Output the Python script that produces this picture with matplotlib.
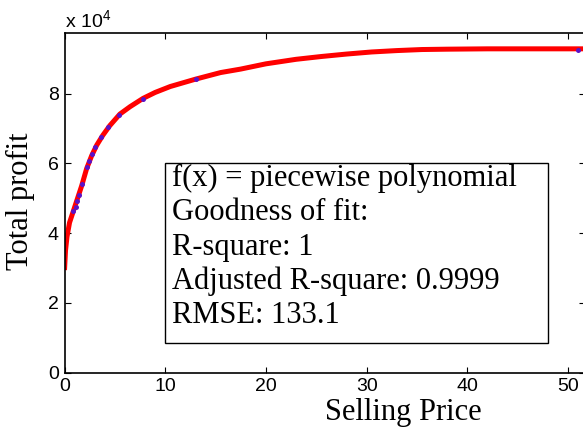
import matplotlib
matplotlib.use("Agg")
from matplotlib import pyplot as plt
from matplotlib.patches import Rectangle
import numpy as np

# fitted curve (piecewise polynomial)
fit_x = [0, 0.1, 0.25, 0.5, 0.9, 1.3, 1.7, 2.2, 2.7, 3.2, 3.8, 4.5, 5.5, 6.5,
         7.8, 9, 10.5, 13, 15.5, 17.5, 20, 23, 25.5, 28, 30.5, 33, 35.5, 38,
         42, 46, 51.7]
fit_y = [2.94, 3.5, 3.9, 4.3, 4.65, 5.0, 5.35, 5.85, 6.22, 6.52, 6.8, 7.08,
         7.41, 7.62, 7.86, 8.03, 8.2, 8.41, 8.60, 8.70, 8.85, 8.98, 9.06, 9.13,
         9.19, 9.23, 9.26, 9.27, 9.28, 9.28, 9.28]

# data points
pts_x = [0.88, 1.11, 1.27, 1.45, 1.71, 2.2, 2.47, 2.72, 3.06, 3.64, 4.32,
         5.44, 7.75, 13.08, 51.0]
pts_y = [4.63, 4.76, 4.92, 5.10, 5.40, 5.90, 6.07, 6.26, 6.47, 6.74, 7.04,
         7.39, 7.84, 8.41, 9.25]

xticks = [0, 10, 20, 30, 40, 50]
yticks = [0, 2, 4, 6, 8]

info = ["f(x) = piecewise polynomial",
        "Goodness of fit:",
        "R-square: 1",
        "Adjusted R-square: 0.9999",
        "RMSE: 133.1"]

plt.rcParams['font.family'] = 'Liberation Sans'
plt.rcParams['mathtext.default'] = 'regular'

W, H = 583, 429
L, R, T, B = 64.5, 584.5, 33.3, 372.7
fig = plt.figure(figsize=(5.83, 4.29), dpi=100)
ax = fig.add_axes([L/W, 1-B/H, (R-L)/W, (B-T)/H])

def ax_x(px):
    return (px-L)/(R-L)

def ax_y(py):
    return (B-py)/(B-T)

ax.plot(np.array(fit_x), np.array(fit_y)*1e4, color='red', lw=3.6,
        solid_capstyle='butt', zorder=2)
ax.plot(np.array(pts_x), np.array(pts_y)*1e4, ls='none', marker='o', ms=3.6,
        color='#5a12c8', mec='none', zorder=3)

ax.set_xlim(0, (R-L)/10.07)
ax.set_ylim(0, 9.725e4)
ax.set_xticks(xticks)
ax.set_yticks([v*1e4 for v in yticks])
ax.set_xticklabels([str(v) for v in xticks])
ax.set_yticklabels([str(v) for v in yticks])
ax.tick_params(direction='in', length=4, width=0.8, top=True, right=True,
               labelsize=14, pad=4, colors='black')
for s in ax.spines.values():
    s.set_linewidth(1.2)

ax.set_xlabel("Selling Price", family='Liberation Serif', fontsize=22)
ax.xaxis.set_label_coords(ax_x(403), ax_y(398))
ax.set_ylabel("Total profit", family='Liberation Serif', fontsize=22)
ax.yaxis.set_label_coords(ax_x(35), ax_y(201))

fig.text(65/W, 1-27/H, r"x 10$^{4}$", fontsize=14, ha='left', va='baseline')

# fit info box
ax.add_patch(Rectangle((ax_x(165), ax_y(343)), ax_x(548)-ax_x(165),
                       ax_y(163)-ax_y(343), transform=ax.transAxes,
                       fc='white', ec='black', lw=1.0, zorder=4))
baselines = [186, 220.3, 254.5, 288.8, 323]
for line, yb in zip(info, baselines):
    ax.text(ax_x(172), ax_y(yb), line, transform=ax.transAxes,
            family='Liberation Serif', fontsize=22, va='baseline',
            ha='left', zorder=5)

fig.savefig("out.png", dpi=100)
